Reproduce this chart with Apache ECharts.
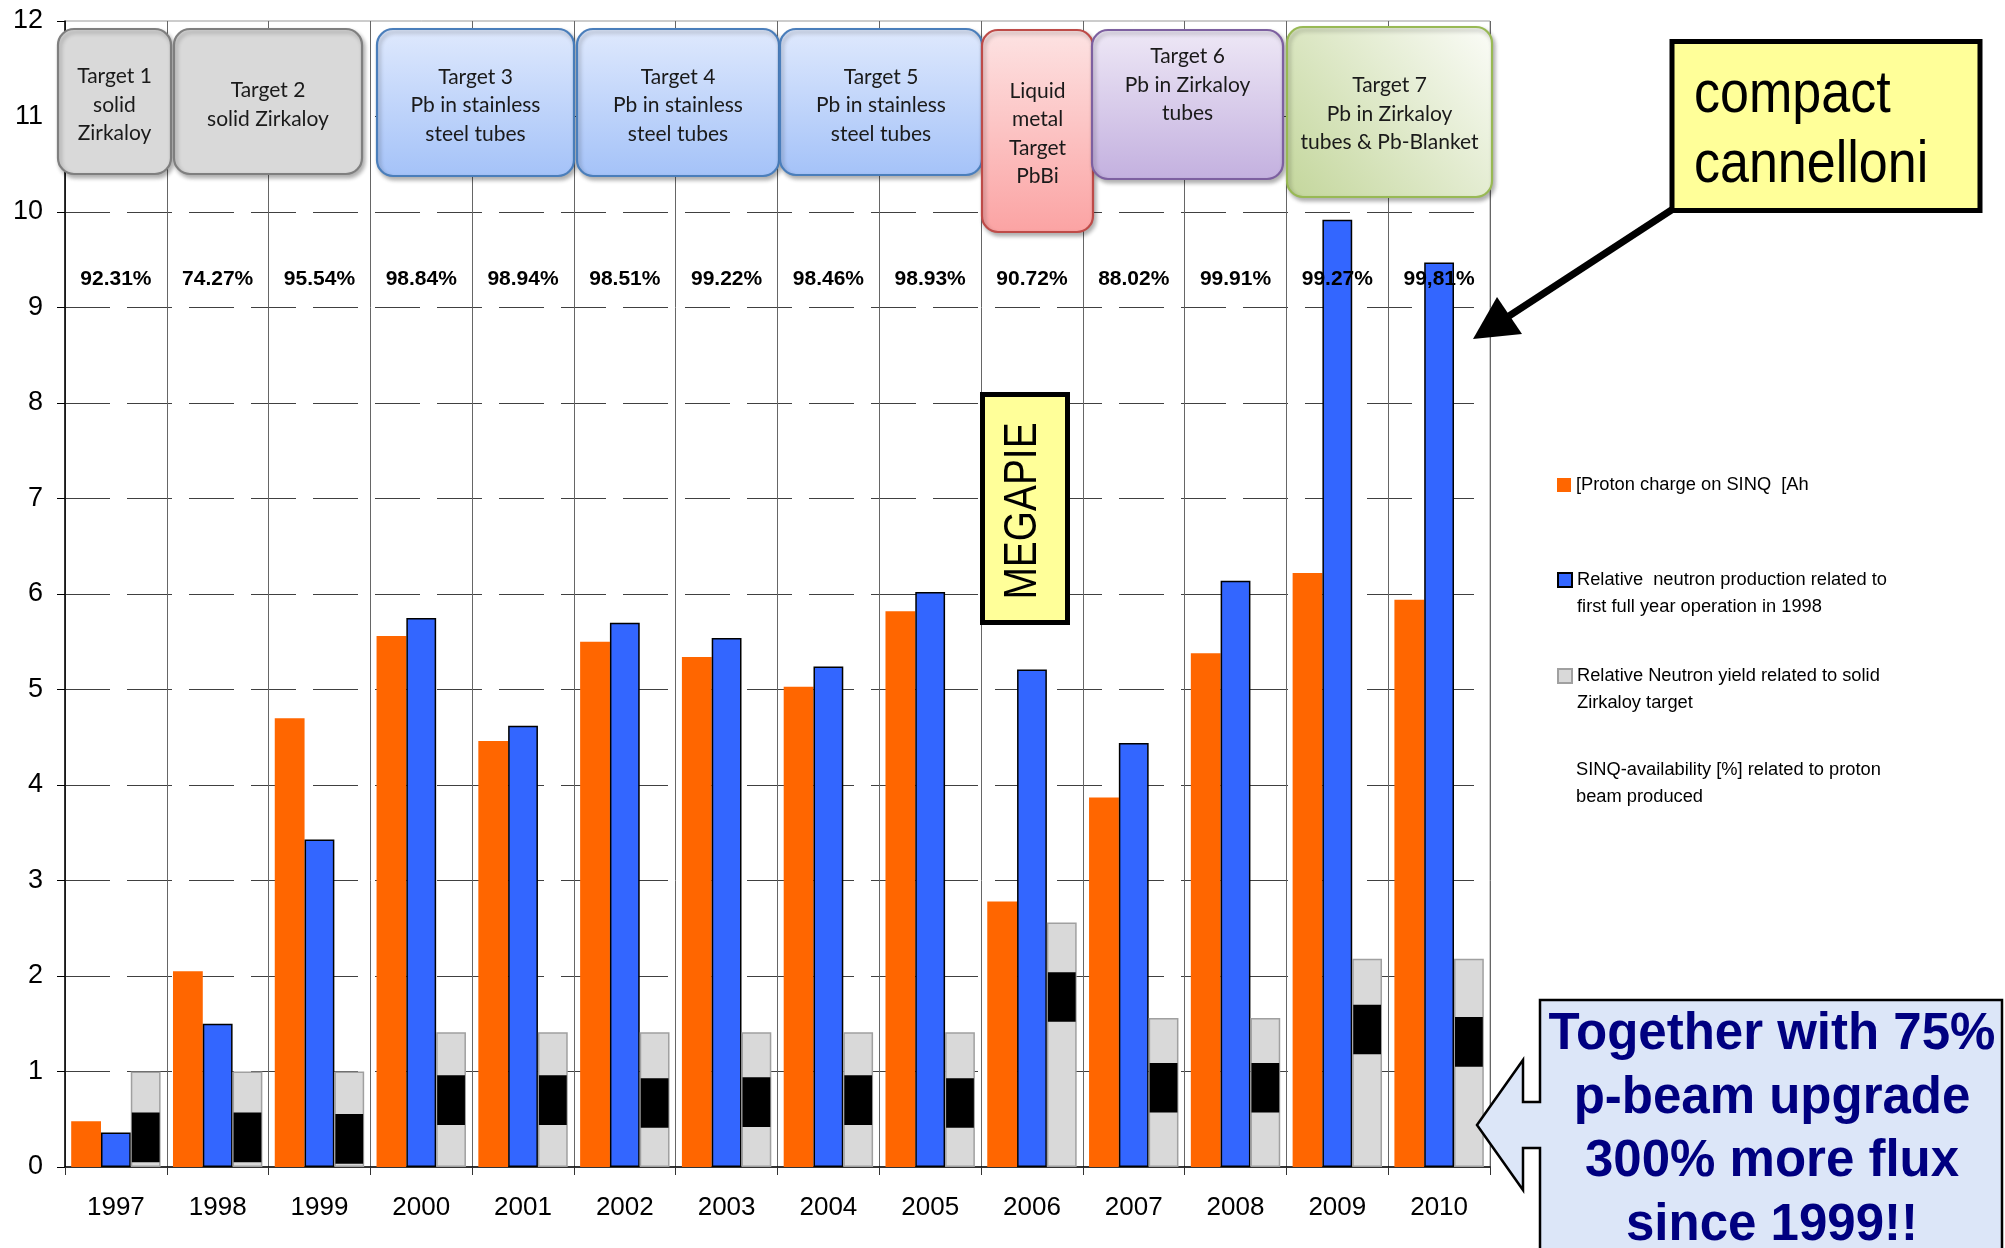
<!DOCTYPE html>
<html><head><meta charset="utf-8">
<script src="https://cdn.jsdelivr.net/npm/echarts@6/dist/echarts.min.js"></script>
<style>html,body{margin:0;padding:0;background:#fff}#c{width:2005px;height:1248px}</style>
</head><body><div id="c"></div>
<script>
// ---- data ----
const years = ['1997','1998','1999','2000','2001','2002','2003','2004','2005','2006','2007','2008','2009','2010'];
const protonCharge = [0.48,2.05,4.70,5.56,4.46,5.50,5.34,5.03,5.82,2.78,3.87,5.38,6.22,5.94];
const neutronProduction = [0.36,1.50,3.43,5.75,4.62,5.70,5.54,5.24,6.02,5.21,4.44,6.14,9.92,9.47];
const neutronYield = [1.00,1.00,1.00,1.41,1.41,1.41,1.41,1.41,1.41,2.56,1.56,1.56,2.18,2.18];
const blackLow  = [0.05,0.05,0.035,0.44,0.44,0.41,0.42,0.44,0.41,1.52,0.57,0.57,1.18,1.05];
const blackHigh = [0.57,0.57,0.555,0.96,0.96,0.93,0.94,0.96,0.93,2.04,1.09,1.09,1.70,1.57];
const availability = ['92.31%','74.27%','95.54%','98.84%','98.94%','98.51%','99.22%','98.46%','98.93%','90.72%','88.02%','99.91%','99.27%','99,81%'];

const nameProton = '[Proton charge on SINQ  [Ah';
const nameProd = 'Relative  neutron production related to\nfirst full year operation in 1998';
const nameYield = 'Relative Neutron yield related to solid\nZirkaloy target';
const nameAvail = 'SINQ-availability [%] related to proton\nbeam produced';

const BAR_W = 29.8;
const LABEL_Y = 9.3;

const chart = echarts.init(document.getElementById('c'), null, {renderer:'canvas'});

function legendItem(name, top, twoLine, extra){
  return {
    show:true, left:1557, top:top, orient:'vertical', padding:0,
    itemWidth:14, itemHeight:14, selectedMode:false,
    data:[Object.assign({name:name, icon:'rect'}, extra||{})],
    formatter: twoLine ? function(n){ return '\n' + n; } : null,
    textStyle:{fontFamily:'"Liberation Sans",Arial,sans-serif', fontSize:18.3, lineHeight:27, color:'#000'}
  };
}

function grad(c1, c2, diag){
  return diag ? new echarts.graphic.LinearGradient(1,0,0,1,[{offset:0,color:c1},{offset:1,color:c2}])
              : new echarts.graphic.LinearGradient(0,0,0,1,[{offset:0,color:c1},{offset:1,color:c2}]);
}
const boxFont = '21px Lato, "Open Sans", sans-serif';
function targetBox(x1, x2, y1, y2, fill, stroke, text, ty){
  return [
    {type:'rect', z:100, shape:{x:x1, y:y1, width:x2-x1, height:y2-y1, r:16},
     style:{fill:fill, stroke:stroke, lineWidth:2.2, shadowBlur:4, shadowOffsetX:2, shadowOffsetY:3, shadowColor:'rgba(0,0,0,0.3)'}},
    {type:'text', z:101, x:(x1+x2)/2, y:ty,
     style:{text:text, align:'center', verticalAlign:'middle', font:boxFont, lineHeight:28.5, fill:'#1a1a1a'}}
  ];
}

const graphics = [].concat(
  targetBox(58,171,29,174,'#d9d9d9','#7f7f7f','Target 1\nsolid\nZirkaloy',105),
  targetBox(174,362,29,174,'#d9d9d9','#7f7f7f','Target 2\nsolid Zirkaloy',104.5),
  targetBox(377,574,29,176,grad('#dfe9fd','#a4c2f8'),'#4a7ebb','Target 3\nPb in stainless\nsteel tubes',105.5),
  targetBox(577,779,29,176,grad('#dfe9fd','#a4c2f8'),'#4a7ebb','Target 4\nPb in stainless\nsteel tubes',105.5),
  targetBox(780,982,29,175,grad('#dfe9fd','#a4c2f8'),'#4a7ebb','Target 5\nPb in stainless\nsteel tubes',105.5),
  targetBox(982,1093,30,232,grad('#fde3e3','#fba3a3'),'#be4b48','Liquid\nmetal\nTarget\nPbBi',133.5),
  targetBox(1092,1283,30,179,grad('#eee8f6','#c3b0df'),'#7d60a0','Target 6\nPb in Zirkaloy\ntubes',85),
  targetBox(1287,1492,27,197,grad('#fbfcf8','#c3d69b',true),'#98b954','Target 7\nPb in Zirkaloy\ntubes & Pb-Blanket',114),
  [
    // MEGAPIE label
    {type:'rect', z:100, shape:{x:982.5, y:394.5, width:85, height:228}, style:{fill:'#ffff99', stroke:'#000', lineWidth:5}},
    {type:'text', z:101, x:1023, y:511, rotation:Math.PI/2, scaleX:0.845,
     style:{text:'MEGAPIE', align:'center', verticalAlign:'middle', font:'46px "Liberation Sans",Arial,sans-serif', fill:'#000'}},
    // compact cannelloni callout
    {type:'polyline', z:100, shape:{points:[[1673,209],[1509,316]]}, style:{stroke:'#000', lineWidth:7}},
    {type:'polygon', z:100, shape:{points:[[1473,339],[1497,297],[1522,334]]}, style:{fill:'#000'}},
    {type:'rect', z:101, shape:{x:1672, y:41.5, width:308, height:169}, style:{fill:'#ffff99', stroke:'#000', lineWidth:5}},
    {type:'text', z:102, x:1694, y:130, scaleX:0.867,
     style:{text:'compact\ncannelloni', align:'left', verticalAlign:'middle', font:'60px "Liberation Sans",Arial,sans-serif', lineHeight:70, fill:'#000'}},
    // bottom right callout
    {type:'polygon', z:100, shape:{points:[[1540,1000],[2002,1000],[2002,1260],[1540,1260],[1540,1148],[1523,1148],[1523,1190],[1477,1125],[1523,1060],[1523,1102],[1540,1102]]},
     style:{fill:'#dce6f8', stroke:'#000', lineWidth:2.5}},
    {type:'text', z:101, x:1772, y:1130.5,
     style:{text:'Together with 75%\np-beam upgrade\n300% more flux\nsince 1999!!', align:'center', verticalAlign:'middle', font:'bold 51px "Liberation Sans",Arial,sans-serif', lineHeight:63.5, fill:'#000080'}}
  ]
);

const option = {
  backgroundColor:'#fff',
  animation:false,
  grid:{left:65, right:515, top:21, bottom:81, containLabel:false, show:true, borderColor:'#999', borderWidth:1, backgroundColor:'transparent'},
  legend:[
    legendItem(nameProton, 471.5, false),
    legendItem(nameProd, 539.5, true),
    legendItem(nameYield, 635.5, true),
    legendItem(nameAvail, 729.5, true, {itemStyle:{color:'rgba(0,0,0,0)', borderWidth:0, opacity:0}})
  ],
  xAxis:{
    type:'category', data:years, boundaryGap:true,
    axisLine:{show:true, lineStyle:{color:'#000', width:1.5}},
    axisTick:{show:true, length:8, lineStyle:{color:'#333'}},
    axisLabel:{fontSize:26, fontFamily:'"Liberation Sans",Arial,sans-serif', color:'#000', margin:28},
    splitLine:{show:true, lineStyle:{color:'#666', width:1}}
  },
  yAxis:{
    type:'value', min:0, max:12, interval:1,
    axisLine:{show:true, lineStyle:{color:'#000', width:1.5}},
    axisTick:{show:true, length:8, lineStyle:{color:'#000'}},
    axisLabel:{fontSize:27, fontFamily:'"Liberation Sans",Arial,sans-serif', color:'#000', margin:22},
    splitLine:{show:true, showMinLine:false, showMaxLine:false, lineStyle:{color:'#404040', width:1, type:[45,17]}}
  },
  series:[
    {name:nameProton, type:'bar', data:protonCharge, barWidth:BAR_W, barGap:'0%',
     itemStyle:{color:'#ff6600'}},
    {name:nameProd, type:'bar', data:neutronProduction, barWidth:BAR_W, barGap:'0%',
     itemStyle:{color:'#3366ff', borderColor:'#000', borderWidth:1.5}},
    {name:nameYield, type:'bar', data:neutronYield, barWidth:BAR_W, barGap:'0%',
     itemStyle:{color:'#d9d9d9', borderColor:'#a0a0a0', borderWidth:1.5}},
    {name:'availability range', type:'custom', z:4,
     data:years.map((y,i)=>[i, blackLow[i], blackHigh[i]]),
     encode:{x:0, y:[1,2]},
     renderItem:function(params, api){
       const lo = api.coord([api.value(0), api.value(1)]);
       const hi = api.coord([api.value(0), api.value(2)]);
       return {type:'rect', shape:{x:lo[0]+BAR_W/2+1, y:hi[1], width:BAR_W-2, height:lo[1]-hi[1]}, style:{fill:'#000'}};
     }},
    {name:nameAvail, type:'custom', z:6,
     data:years.map((y,i)=>[i, LABEL_Y]),
     encode:{x:0, y:1},
     itemStyle:{color:'rgba(0,0,0,0)'},
     renderItem:function(params, api){
       const p = api.coord([api.value(0), api.value(1)]);
       return {type:'text', x:p[0], y:p[1], style:{text:availability[params.dataIndex], align:'center', verticalAlign:'middle', font:'bold 21px "Liberation Sans",Arial,sans-serif', fill:'#000'}};
     }}
  ],
  graphic:graphics
};
chart.setOption(option);
</script>
</body></html>
